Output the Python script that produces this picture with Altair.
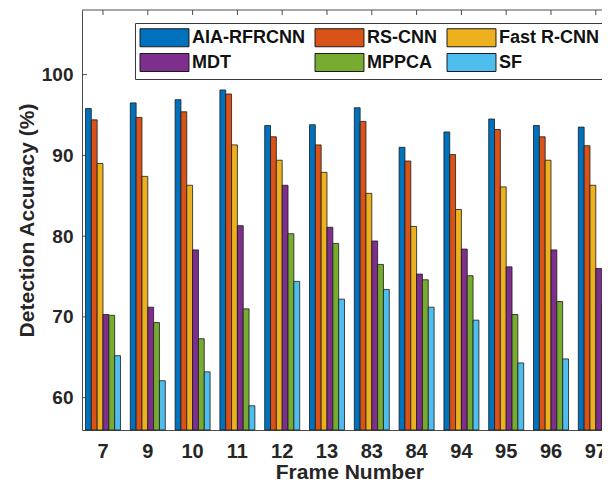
import altair as alt
import pandas as pd

frames = ["7", "9", "10", "11", "12", "13", "83", "84", "94", "95", "96", "97"]
methods = ["AIA-RFRCNN", "RS-CNN", "Fast R-CNN", "MDT", "MPPCA", "SF"]
colors = ["#0072BD", "#D95319", "#EDB120", "#7E2F8E", "#77AC30", "#4DBEEE"]

aia_rfrcnn = [95.8, 96.5, 96.9, 98.1, 93.7, 93.8, 95.9, 91.0, 92.9, 94.5, 93.7, 93.5]
rs_cnn = [94.4, 94.7, 95.4, 97.6, 92.3, 91.3, 94.2, 89.3, 90.1, 93.2, 92.3, 91.2]
fast_rcnn = [89.0, 87.4, 86.3, 91.3, 89.4, 87.9, 85.3, 81.2, 83.3, 86.1, 89.4, 86.3]
mdt = [70.3, 71.2, 78.3, 81.3, 86.3, 81.1, 79.4, 75.3, 78.4, 76.2, 78.3, 76.0]
mppca = [70.2, 69.3, 67.3, 71.0, 80.3, 79.1, 76.5, 74.6, 75.1, 70.3, 71.9, 71.5]
sf = [65.2, 62.1, 63.2, 59.0, 74.4, 72.2, 73.4, 71.2, 69.6, 64.3, 64.8, 64.3]

y_ticks = [60, 70, 80, 90, 100]

series = [aia_rfrcnn, rs_cnn, fast_rcnn, mdt, mppca, sf]
rows = []
for m, vals in zip(methods, series):
    for f, v in zip(frames, vals):
        rows.append({"frame": f, "method": m, "value": v, "base": 56})
df = pd.DataFrame(rows)
frame_df = pd.DataFrame({"frame": frames})
ytick_df = pd.DataFrame({"value": y_ticks})
one_df = pd.DataFrame({"a": [0]})

FONT = "Liberation Sans"
TXT = "#262626"
AXC = "#4d4d4d"

x_scale = alt.Scale(range=[0, 534.8], paddingInner=0.219, paddingOuter=0.078)
y_scale = alt.Scale(domain=[56, 108], nice=False, zero=False)

x_axis = alt.Axis(
    title="Frame Number",
    labelAngle=0,
    ticks=False,
    tickSize=0,
    labelPadding=11,
    titlePadding=0,
    labelFontSize=20,
    titleFontSize=21,
    labelFont=FONT,
    titleFont=FONT,
    labelFontWeight="bold",
    titleFontWeight="bold",
    labelColor=TXT,
    titleColor=TXT,
    domainColor=AXC,
    domainWidth=1,
    grid=False,
)
y_axis = alt.Axis(
    title="Detection Accuracy (%)",
    values=y_ticks,
    ticks=False,
    tickSize=0,
    labelPadding=9,
    titlePadding=4,
    labelFontSize=19,
    titleFontSize=21,
    labelFont=FONT,
    titleFont=FONT,
    labelFontWeight="bold",
    titleFontWeight="bold",
    labelColor=TXT,
    titleColor=TXT,
    domainColor=AXC,
    domainWidth=1,
    grid=False,
)

X = alt.X("frame:N", sort=frames, scale=x_scale, axis=x_axis, title="Frame Number")
Y = alt.Y("value:Q", scale=y_scale, axis=y_axis, title="Detection Accuracy (%)")

top_line = alt.Chart(one_df).mark_rule(color=AXC, strokeWidth=1).encode(
    y=alt.value(0)
)

top_ticks = alt.Chart(frame_df).mark_rule(color=AXC, strokeWidth=1).encode(
    x=X,
    y=alt.value(0),
    y2=alt.value(5),
)

left_ticks = alt.Chart(ytick_df).mark_rule(color=AXC, strokeWidth=1).encode(
    y=Y,
    x=alt.value(0),
    x2=alt.value(5),
)

bars = alt.Chart(df).mark_bar(stroke="#1a1a1a", strokeWidth=0.8).encode(
    x=X,
    xOffset=alt.XOffset("method:N", sort=methods,
                        scale=alt.Scale(paddingInner=0, paddingOuter=0)),
    y=Y,
    y2=alt.Y2("base:Q"),
    color=alt.Color(
        "method:N",
        sort=methods,
        scale=alt.Scale(domain=methods, range=colors),
        legend=alt.Legend(
            title=None,
            orient="none",
            legendX=53,
            legendY=13,
            columns=3,
            direction="horizontal",
            symbolType="M-2.72,-1H2.72V1H-2.72Z",
            symbolSize=324,
            symbolOffset=15,
            labelOffset=18,
            columnPadding=8,
            rowPadding=2,
            padding=5,
            fillColor="white",
            strokeColor="#3a3a3a",
            labelFontSize=18,
            labelFont=FONT,
            labelFontWeight="bold",
            labelColor="#111111",
            labelLimit=400,
            symbolStrokeColor="#1a1a1a",
            symbolStrokeWidth=1,
            symbolOpacity=1,
        ),
    ),
)

chart = alt.layer(top_line, top_ticks, left_ticks, bars).properties(
    width=520,
    height=420,
    autosize=alt.AutoSizeParams(type="none"),
    padding={"left": 74, "top": 2, "right": 0, "bottom": 51},
    background="white",
).configure_view(strokeWidth=0, stroke="transparent")

chart.save("out.html", embed_options={"renderer": "svg", "actions": False})
